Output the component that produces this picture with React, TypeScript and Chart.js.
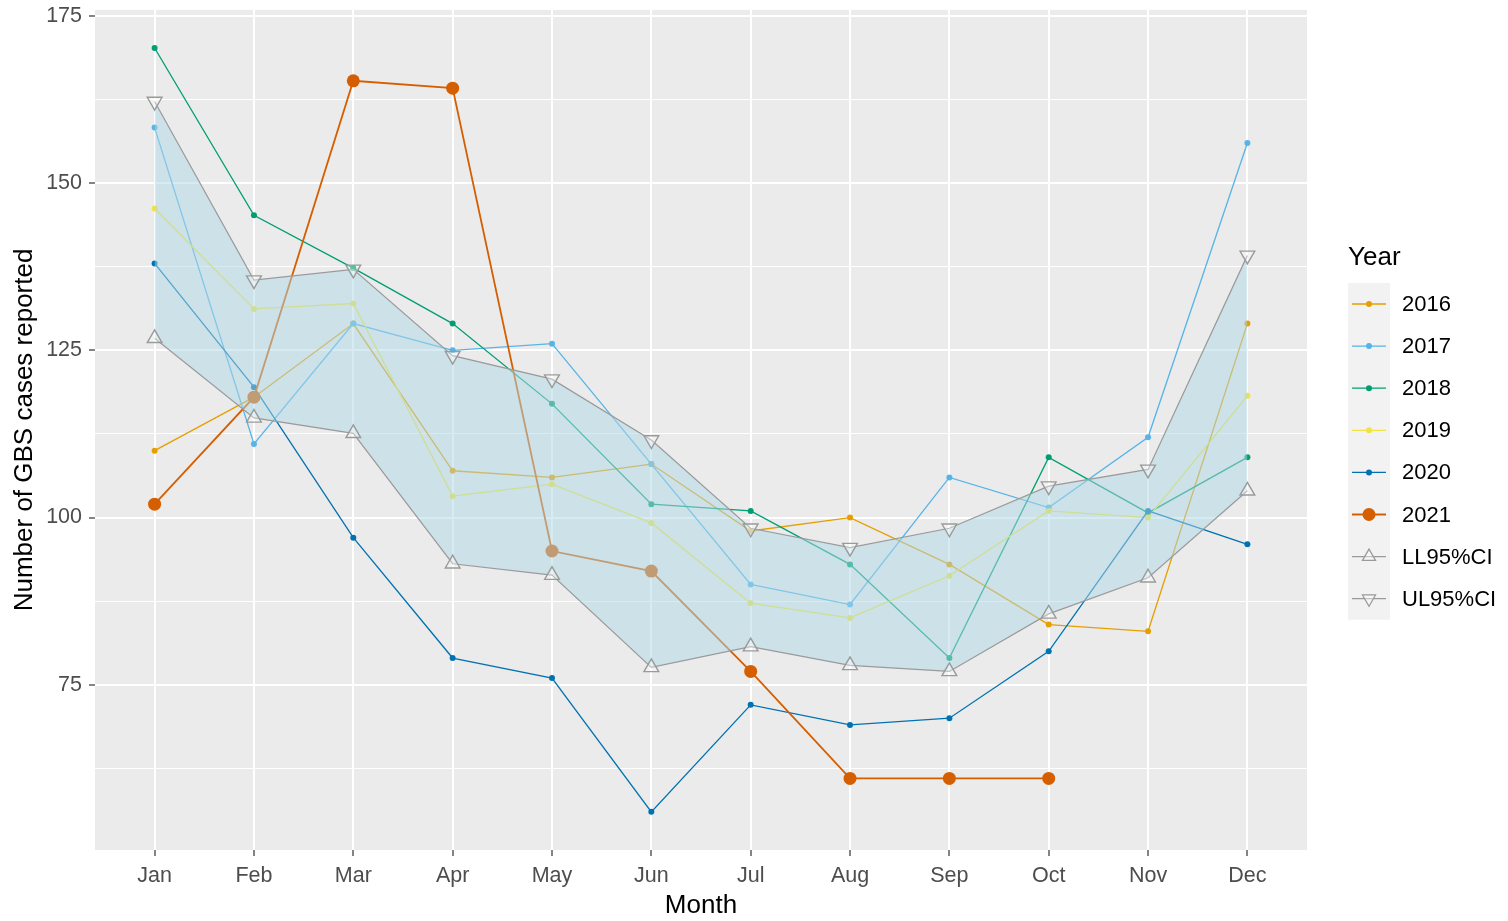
import React, { useEffect, useRef } from 'react';
import { Chart, registerables } from 'chart.js';

Chart.register(...registerables);

// ---------- data ----------
const MONTHS = ['Jan', 'Feb', 'Mar', 'Apr', 'May', 'Jun', 'Jul', 'Aug', 'Sep', 'Oct', 'Nov', 'Dec'];
const Y_MAJOR_TICKS = [75, 100, 125, 150, 175];
const Y_MINOR_TICKS = [62.5, 87.5, 112.5, 137.5, 162.5];

const Y2016 = [110, 118, 129, 107, 106, 108, 98, 100, 93, 84, 83, 129];
const Y2017 = [158.3, 111, 129, 125, 126, 108, 90, 87, 106, 101.5, 112, 156];
const Y2018 = [170.2, 145.2, 137.3, 129, 117, 102, 101, 93, 79, 109, 100.7, 109];
const Y2019 = [146.2, 131.2, 132, 103.2, 105, 99.2, 87.2, 85, 91.3, 101, 100, 118.2];
const Y2020 = [138, 119.5, 97, 79, 76, 56, 72, 69, 70, 80, 101, 96];
const Y2021 = [102, 118, 165.3, 164.2, 95, 92, 77, 61, 61, 61];
const LL95 = [126.8, 114.9, 112.6, 93.1, 91.4, 77.6, 80.7, 77.9, 77, 85.6, 91, 104];
const UL95 = [162.2, 135.5, 137.1, 124.2, 120.7, 111.6, 98.4, 95.5, 98.4, 104.7, 107.2, 139.2];

const YEAR_LABELS = ['2016', '2017', '2018', '2019', '2020', '2021'];
const YEAR_SERIES = [Y2016, Y2017, Y2018, Y2019, Y2020, Y2021];
const YEAR_COLORS = ['#E69F00', '#56B4E9', '#009E73', '#F0E442', '#0072B2', '#D55E00'];
const CI_LABELS = ['LL95%CI', 'UL95%CI'];
const LEGEND_TITLE = 'Year';
const X_TITLE = 'Month';
const Y_TITLE = 'Number of GBS cases reported';

// ---------- style ----------
const FONT = '"Liberation Sans", Arial, Helvetica, sans-serif';
const GREY = '#9A9A9A';
const RIBBON = 'rgba(173,216,230,0.5)';
const PANEL_BG = '#EBEBEB';

const toPts = (arr: number[]) => arr.map((v, i) => ({ x: i + 1, y: v }));

const panelBg = {
  id: 'panelBg',
  beforeDraw(chart: any) {
    const { left, top, width, height } = chart.chartArea;
    const ctx = chart.ctx;
    ctx.save();
    ctx.fillStyle = PANEL_BG;
    ctx.fillRect(left, top, width, height);
    ctx.restore();
  },
};

function drawTri(ctx: CanvasRenderingContext2D, x: number, y: number, r: number, down: boolean) {
  const s = down ? -1 : 1;
  ctx.beginPath();
  ctx.moveTo(x, y - s * r);
  ctx.lineTo(x + r * 0.866, y + s * r * 0.5);
  ctx.lineTo(x - r * 0.866, y + s * r * 0.5);
  ctx.closePath();
}

const ggLegend = {
  id: 'ggLegend',
  afterDraw(chart: any) {
    const ctx: CanvasRenderingContext2D = chart.ctx;
    const x0 = chart.chartArea.right + 41;
    ctx.save();
    ctx.textAlign = 'left';
    ctx.textBaseline = 'middle';
    ctx.fillStyle = '#000';
    ctx.font = `26px ${FONT}`;
    ctx.fillText(LEGEND_TITLE, x0, 258);
    const step = 42.1;
    const y0 = 304;
    const n = YEAR_LABELS.length + CI_LABELS.length;
    ctx.fillStyle = '#F2F2F2';
    ctx.fillRect(x0, y0 - step / 2, 42, step * n);
    const items = [
      ...YEAR_LABELS.map((l, i) => ({ label: l, color: YEAR_COLORS[i], kind: i === 5 ? 'big' : 'dot' })),
      { label: CI_LABELS[0], color: GREY, kind: 'up' },
      { label: CI_LABELS[1], color: GREY, kind: 'down' },
    ];
    items.forEach((it, i) => {
      const cy = y0 + i * step;
      const cx = x0 + 21;
      ctx.strokeStyle = it.color;
      ctx.lineWidth = it.kind === 'big' ? 1.8 : 1.3;
      ctx.beginPath();
      ctx.moveTo(x0 + 4, cy);
      ctx.lineTo(x0 + 38, cy);
      ctx.stroke();
      if (it.kind === 'dot' || it.kind === 'big') {
        ctx.fillStyle = it.color;
        ctx.beginPath();
        ctx.arc(cx, cy, it.kind === 'big' ? 6.5 : 3, 0, Math.PI * 2);
        ctx.fill();
      } else {
        drawTri(ctx, cx, cy, 7.5, it.kind === 'down');
        ctx.fillStyle = 'rgba(255,255,255,0.4)';
        ctx.fill();
        ctx.lineWidth = 1.3;
        ctx.stroke();
      }
      ctx.fillStyle = '#000';
      ctx.font = `22px ${FONT}`;
      ctx.fillText(it.label, x0 + 54, cy + 1);
    });
    ctx.restore();
  },
};

export default function App() {
  const ref = useRef<HTMLCanvasElement | null>(null);

  useEffect(() => {
    if (!ref.current) return;
    const yearSets = YEAR_SERIES.map((arr, i) => {
      const big = i === 5;
      return {
        label: YEAR_LABELS[i],
        data: toPts(arr),
        borderColor: YEAR_COLORS[i],
        backgroundColor: YEAR_COLORS[i],
        borderWidth: big ? 1.8 : 1.3,
        pointRadius: big ? 6.5 : 3,
        pointHoverRadius: big ? 6.5 : 3,
        pointBorderWidth: 0,
        pointBackgroundColor: YEAR_COLORS[i],
        fill: false,
        tension: 0,
        order: 10 - i,
      };
    });
    const ciCommon = {
      borderColor: GREY,
      borderWidth: 1.2,
      pointStyle: 'triangle',
      pointRadius: 8.5,
      pointHoverRadius: 8.5,
      pointBorderColor: GREY,
      pointBackgroundColor: 'rgba(255,255,255,0.35)',
      pointBorderWidth: 1.4,
      tension: 0,
      order: 1,
    };
    const datasets: any[] = [
      ...yearSets,
      { ...ciCommon, label: CI_LABELS[0], data: toPts(LL95), fill: false },
      {
        ...ciCommon,
        label: CI_LABELS[1],
        data: toPts(UL95),
        pointRotation: 180,
        fill: '-1',
        backgroundColor: RIBBON,
      },
    ];

    const tickFont = { family: FONT, size: 21.5 };
    const titleFont = { family: FONT, size: 26 };
    const isMajorY = (v: number) => Y_MAJOR_TICKS.includes(v);

    const chart = new Chart(ref.current, {
      type: 'line',
      data: { datasets },
      plugins: [panelBg, ggLegend],
      options: {
        animation: false,
        responsive: false,
        devicePixelRatio: 1,
        layout: { padding: { top: 7, right: 201, left: 0, bottom: 0 } },
        plugins: { legend: { display: false }, tooltip: { enabled: false } },
        scales: {
          x: {
            type: 'linear',
            min: 0.4,
            max: 12.6,
            bounds: 'data',
            afterBuildTicks: (s: any) => {
              s.ticks = MONTHS.map((_, i) => ({ value: i + 1 }));
            },
            afterFit: (s: any) => {
              s.height = 71;
              s.paddingLeft = 0;
              s.paddingRight = 0;
            },
            ticks: {
              autoSkip: false,
              maxRotation: 0,
              minRotation: 0,
              color: '#4D4D4D',
              font: tickFont,
              padding: 7,
              callback: (v: any) => MONTHS[Math.round(v) - 1] ?? '',
            },
            grid: {
              color: '#FFFFFF',
              lineWidth: 2,
              tickColor: '#333333',
              tickLength: 6,
              tickWidth: 1.2,
            },
            border: { display: false },
            title: {
              display: true,
              text: X_TITLE,
              color: '#000',
              font: titleFont,
              padding: { top: 0, bottom: 0 },
            },
          },
          y: {
            type: 'linear',
            min: 50.3,
            max: 175.9,
            bounds: 'data',
            afterBuildTicks: (s: any) => {
              s.ticks = [...Y_MINOR_TICKS, ...Y_MAJOR_TICKS].sort((a, b) => a - b).map((v) => ({ value: v }));
            },
            afterFit: (s: any) => {
              s.width = 95;
              s.paddingTop = 0;
              s.paddingBottom = 0;
            },
            ticks: {
              autoSkip: false,
              color: '#4D4D4D',
              font: tickFont,
              padding: 7,
              callback: (v: any) => (isMajorY(v) ? String(v) : ''),
            },
            grid: {
              color: '#FFFFFF',
              lineWidth: (c: any) => (c.tick && isMajorY(c.tick.value) ? 2 : 1),
              tickColor: (c: any) => (c.tick && isMajorY(c.tick.value) ? '#333333' : 'rgba(0,0,0,0)'),
              tickLength: 6,
              tickWidth: 1.2,
            },
            border: { display: false },
            title: {
              display: true,
              text: Y_TITLE,
              color: '#000',
              font: titleFont,
              padding: { top: 9, bottom: 0 },
            },
          },
        },
      } as any,
    });
    return () => chart.destroy();
  }, []);

  return (
    <div style={{ position: 'absolute', left: 0, top: 0, width: 1508, height: 921, background: '#fff' }}>
      <canvas ref={ref} width={1508} height={921} style={{ display: 'block', width: 1508, height: 921 }} />
    </div>
  );
}
